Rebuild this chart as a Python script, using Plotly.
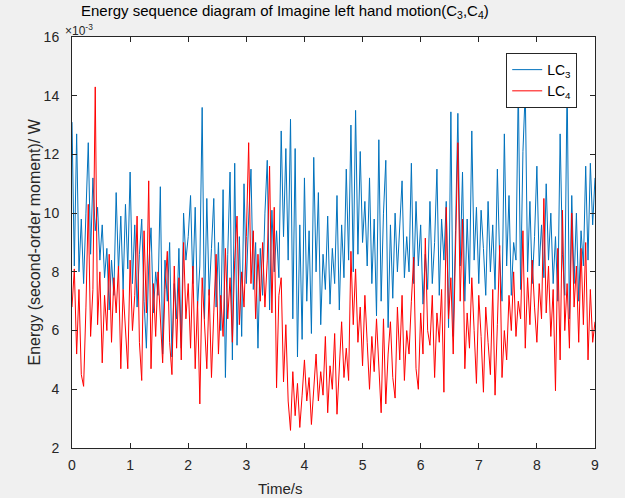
import numpy as np
import plotly.graph_objects as go

dt = 0.04
lc3 = [
    13.1, 8.2, 12.7, 8.0, 9.8, 7.6, 10.0, 12.4, 8.6, 11.2, 9.4, 10.2, 8.4, 9.6, 7.8, 8.8, 6.7, 8.4, 7.2, 10.7, 8.0, 9.9, 7.4, 10.3, 8.1,
    11.4, 7.6, 9.6, 6.8, 8.6, 9.8, 7.0, 5.4, 8.2, 9.5, 6.6, 8.0, 7.2, 10.9, 5.2, 8.4, 7.0, 9.0, 5.1, 7.6, 6.4, 8.8, 5.4, 10.0, 8.4,
    9.2, 10.6, 7.6, 10.2, 6.8, 8.2, 13.6, 6.4, 10.5, 7.2, 8.8, 10.5, 6.8, 9.0, 6.0, 10.8, 4.4, 8.6, 11.4, 5.0, 11.7, 5.5, 9.2, 5.8, 11.0,
    7.6, 9.8, 11.5, 7.4, 9.0, 5.4, 8.8, 7.2, 10.0, 11.8, 6.7, 10.1, 8.0, 9.4, 7.8, 12.8, 9.2, 12.2, 8.4, 13.2, 6.4, 12.2, 5.1, 9.6, 5.7,
    11.2, 7.0, 9.4, 5.9, 11.9, 8.0, 10.7, 6.2, 8.6, 7.4, 9.9, 6.9, 8.8, 7.6, 10.6, 6.7, 9.6, 7.8, 11.5, 8.4, 13.0, 8.0, 13.5, 8.6, 12.1,
    9.0, 10.4, 8.2, 11.2, 7.6, 9.8, 6.5, 12.5, 7.0, 10.0, 11.8, 6.1, 9.6, 7.1, 10.0, 8.0, 9.4, 11.1, 7.8, 9.2, 8.0, 11.7, 7.6, 10.4, 8.2,
    9.6, 6.9, 8.6, 7.4, 10.4, 7.6, 9.0, 11.5, 7.2, 9.8, 8.4, 10.4, 6.1, 13.45, 5.8, 9.4, 13.4, 8.2, 11.4, 7.0, 9.8, 7.6, 12.8, 8.4, 10.2,
    7.6, 10.1, 8.8, 7.2, 10.4, 8.0, 9.6, 7.4, 11.5, 8.4, 7.0, 12.7, 8.2, 10.6, 7.2, 9.0, 8.4, 14.4, 7.4, 12.1, 14.2, 8.0, 10.4, 7.6, 9.2,
    11.6, 8.2, 9.6, 7.8, 11.0, 8.4, 10.0, 7.6, 9.2, 7.0, 12.7, 8.6, 7.2, 14.5, 6.4, 10.6, 7.6, 10.0, 7.0, 9.4, 8.2, 11.6, 8.4, 11.7, 9.6, 11.2,
]
lc4 = [
    6.8, 8.1, 5.2, 7.4, 4.5, 4.1, 6.8, 10.3, 5.8, 7.4, 14.3, 6.2, 8.0, 4.9, 7.2, 6.0, 8.6, 5.6, 7.8, 6.6, 8.2, 4.7, 7.4, 6.2, 4.7,
    8.4, 6.0, 7.2, 9.9, 5.6, 4.3, 9.4, 6.6, 11.1, 4.7, 7.6, 5.8, 8.0, 6.2, 4.9, 7.4, 8.7, 5.6, 4.5, 8.2, 5.4, 7.8, 5.0, 9.0, 6.4,
    7.6, 5.4, 8.2, 4.7, 7.0, 3.5, 7.8, 6.0, 4.7, 7.4, 4.4, 6.6, 8.6, 5.2, 7.2, 5.8, 8.8, 6.4, 7.8, 5.6, 8.4, 9.9, 6.2, 8.0, 6.8,
    9.2, 12.4, 7.6, 9.4, 6.4, 8.6, 7.0, 9.0, 6.8, 8.4, 11.6, 6.6, 10.2, 4.05, 7.2, 7.8, 4.25, 6.2, 3.6, 2.6, 4.6, 3.1, 4.2, 2.7, 3.8,
    5.0, 3.6, 4.4, 2.8, 4.0, 5.2, 3.6, 4.6, 3.8, 5.8, 3.2, 4.8, 4.0, 5.9, 3.15, 5.0, 6.3, 4.4, 5.4, 4.3, 8.7, 6.2, 8.1, 5.6, 6.8,
    4.8, 7.2, 5.6, 4.0, 5.8, 4.6, 6.4, 5.0, 3.2, 6.4, 3.5, 5.2, 6.3, 4.4, 3.7, 6.8, 5.0, 7.2, 4.3, 6.0, 5.2, 7.0, 8.5, 4.7, 4.0,
    6.6, 5.2, 9.15, 6.0, 5.5, 7.2, 4.4, 6.6, 5.6, 7.4, 3.9, 10.2, 6.4, 7.8, 5.2, 8.4, 12.4, 7.0, 9.8, 4.7, 6.6, 5.4, 7.8, 6.0, 4.2,
    7.2, 5.8, 3.9, 6.8, 5.6, 4.5, 7.4, 3.8, 6.2, 8.9, 4.4, 6.0, 5.0, 7.2, 6.0, 8.0, 5.8, 7.0, 6.4, 9.4, 5.4, 7.8, 6.2, 8.4, 6.8,
    5.6, 7.6, 6.4, 10.5, 6.6, 8.2, 5.8, 7.4, 3.95, 8.8, 5.0, 10.1, 6.0, 7.6, 5.4, 10.0, 6.8, 8.2, 5.6, 8.8, 6.2, 9.0, 5.0, 7.4, 5.6, 6.3,
]
t = [round(i * dt, 2) for i in range(len(lc3))]

x_ticks = [0, 1, 2, 3, 4, 5, 6, 7, 8, 9]
y_ticks = [2, 4, 6, 8, 10, 12, 14, 16]

FONT = "Liberation Sans, Arial, Helvetica, sans-serif"
AX = "#262626"

fig = go.Figure()
fig.add_trace(go.Scatter(x=t, y=lc3, mode="lines", name="LC<sub>3</sub>",
                         line=dict(color="#0072BD", width=1)))
fig.add_trace(go.Scatter(x=t, y=lc4, mode="lines", name="LC<sub>4</sub>",
                         line=dict(color="#FF0000", width=1)))

axis_common = dict(showline=True, linecolor=AX, linewidth=1, mirror="ticks",
                   ticks="inside", ticklen=5, tickcolor=AX, tickwidth=1,
                   showgrid=False, zeroline=False,
                   tickfont=dict(family=FONT, size=14, color=AX))
fig.update_xaxes(range=[0, 9], tickvals=x_ticks, ticklabelstandoff=4, **axis_common)
fig.update_yaxes(range=[2, 16], tickvals=y_ticks, ticklabelstandoff=9, **axis_common)

fig.update_layout(
    width=625, height=498,
    margin=dict(l=72, r=30, t=37, b=50),
    paper_bgcolor="#F0F0F0", plot_bgcolor="white",
    showlegend=True,
    legend=dict(x=0.966, y=0.961, xanchor="right", yanchor="top",
                bgcolor="white", bordercolor=AX, borderwidth=1,
                font=dict(family=FONT, size=14, color="black"),
                tracegroupgap=2),
    annotations=[
        dict(text="Energy sequence diagram of Imagine left hand motion(C<sub>3</sub>,C<sub>4</sub>)",
             xref="paper", yref="paper", x=(285 - 72) / 523, y=1.0, yshift=26,
             xanchor="center", yanchor="middle", showarrow=False,
             font=dict(family=FONT, size=15, color="black")),
        dict(text="×10<sup>-3</sup>", xref="paper", yref="paper", x=-0.018, y=1.0,
             yshift=7, xanchor="left", yanchor="middle", showarrow=False,
             font=dict(family=FONT, size=12, color=AX)),
        dict(text="Time/s", xref="paper", yref="paper", x=(280 - 72) / 523, y=0,
             yshift=-40, xanchor="center", yanchor="middle", showarrow=False,
             font=dict(family=FONT, size=15, color=AX)),
        dict(text="Energy (second-order moment)/ W", xref="paper", yref="paper",
             x=0, xshift=-38, y=0.5, xanchor="center", yanchor="middle",
             textangle=-90, showarrow=False,
             font=dict(family=FONT, size=16, color=AX)),
    ],
)

fig.write_html("out.html")
